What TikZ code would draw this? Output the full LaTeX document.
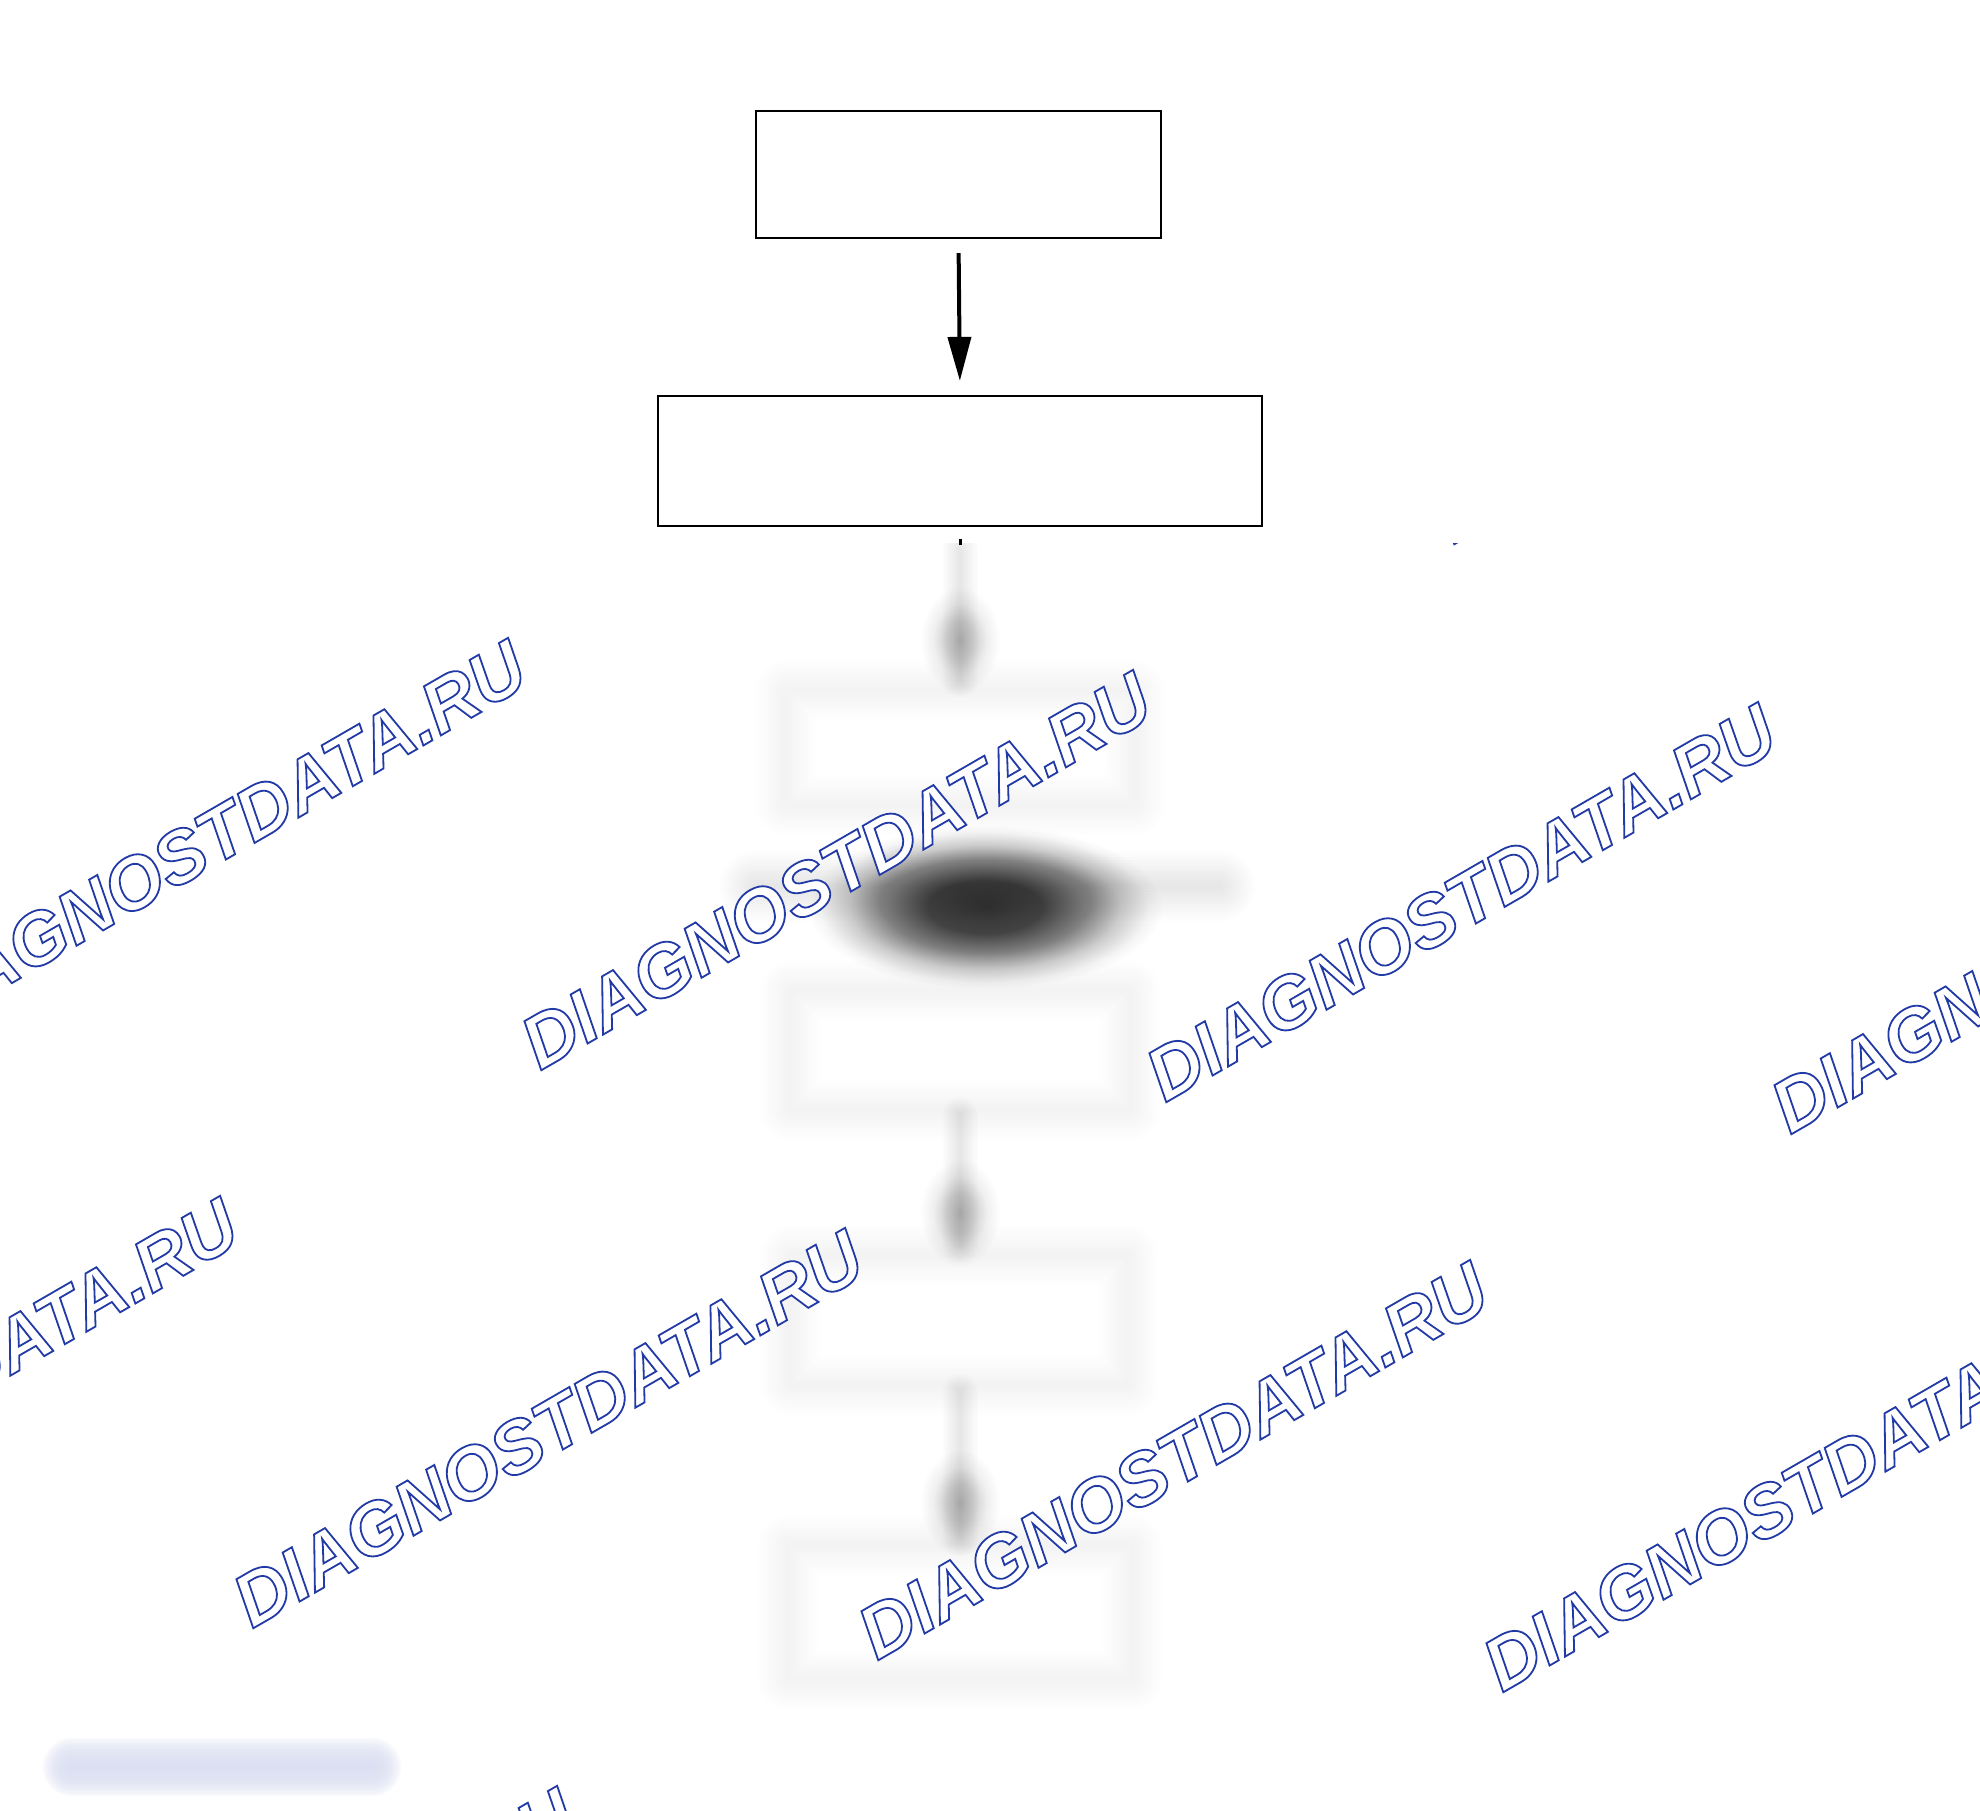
\documentclass[tikz,border=0pt]{standalone}
\usepackage{fontspec}
\usetikzlibrary{arrows.meta}
\newfontfamily\wmfont{Liberation Sans}
\definecolor{wmblue}{RGB}{34,58,165}
\definecolor{barblue}{RGB}{218,223,242}
\pgfdeclareradialshading{blobshade}{\pgfpoint{0bp}{0bp}}{color(0bp)=(black!80); color(8bp)=(black!74); color(14bp)=(black!50); color(19bp)=(black!20); color(23bp)=(black!4); color(25bp)=(white); color(50bp)=(white)}
\pgfdeclareradialshading{headshade}{\pgfpoint{0bp}{0bp}}{color(0bp)=(black!25); color(9bp)=(black!18); color(17bp)=(black!6); color(25bp)=(white); color(50bp)=(white)}
\tikzset{
  flowbox/.style={draw=black, line width=2.2pt, fill=white, inner sep=0pt},
  flowarrow/.style={line width=4pt, -{Triangle[length=44pt,width=23pt]}, shorten >=14pt, shorten <=14pt},
  wmark/.style={rotate=30, anchor=base west, inner sep=0pt, text=white,
    font=\wmfont\bfseries\itshape\fontsize{74}{88}\selectfont},
}
\newcommand\outlinetext[1]{\special{pdf:literal direct 2 Tr 1.8 w 0.133 0.227 0.647 RG}#1\special{pdf:literal direct 0 Tr}}
\newcommand\softstroke[4]{%
  \foreach \k in {1,...,#4}{\draw[line width=#2*\k/#4, opacity=#1, line cap=round, line join=round] #3;}}
\begin{document}
\begin{tikzpicture}[x=1pt,y=-1pt]
\useasboundingbox (0,0) rectangle (1980,1811);
\fill[white] (0,0) rectangle (1980,1811);

% clear upper part
\node[flowbox, minimum width=405pt, minimum height=127pt] (b1) at (958.5,174.5) {};
\node[flowbox, minimum width=604pt, minimum height=130pt] (b2) at (960,461) {};
\draw[flowarrow] (b1.south) -- (b2.north);
\coordinate (stubA) at ([yshift=-12pt]b2.south);
\coordinate (stubB) at (960,545);
\draw[line width=3pt] (stubA) -- (stubB);

% blurred lower part
\begin{scope}
\clip (0,543) rectangle (1980,1811);
% shadings first
\shade[shading=blobshade] (985,907) ellipse [x radius=178, y radius=82];
\shade[shading=headshade] (960,640) ellipse [x radius=40, y radius=54];
\shade[shading=headshade] (960,1213) ellipse [x radius=40, y radius=54];
\shade[shading=headshade] (960,1503) ellipse [x radius=40, y radius=54];
% horizontal grey band
\softstroke{0.009}{70pt}{(755,886) -- (1220,886)}{12}
% blurred boxes
\softstroke{0.0055}{60pt}{(785,690) rectangle (1135,805)}{12}
\softstroke{0.0055}{60pt}{(790,990) rectangle (1130,1110)}{12}
\softstroke{0.0055}{60pt}{(790,1255) rectangle (1128,1385)}{12}
\softstroke{0.0055}{60pt}{(788,1545) rectangle (1132,1680)}{12}
% blurred arrows
\softstroke{0.007}{36pt}{(960,548) -- (960,680)}{12}
\softstroke{0.007}{36pt}{(960,1115) -- (960,1245)}{12}
\softstroke{0.007}{36pt}{(960,1392) -- (960,1538)}{12}
% blurred blue bar
\begin{scope}[barblue]
\softstroke{0.18}{58pt}{(72,1767) -- (372,1767)}{12}
\end{scope}
% watermarks
\foreach \px/\py in {1453/545,
                     -85/1039, 540/1071, 1165/1103, 1790/1135,
                     -373/1597, 252/1629, 877/1661, 1502/1693,
                     -36/2187}{
  \node[wmark] at (\px,\py) {\outlinetext{DIAGNOSTDATA.RU}};
}
\end{scope}
\end{tikzpicture}
\end{document}
